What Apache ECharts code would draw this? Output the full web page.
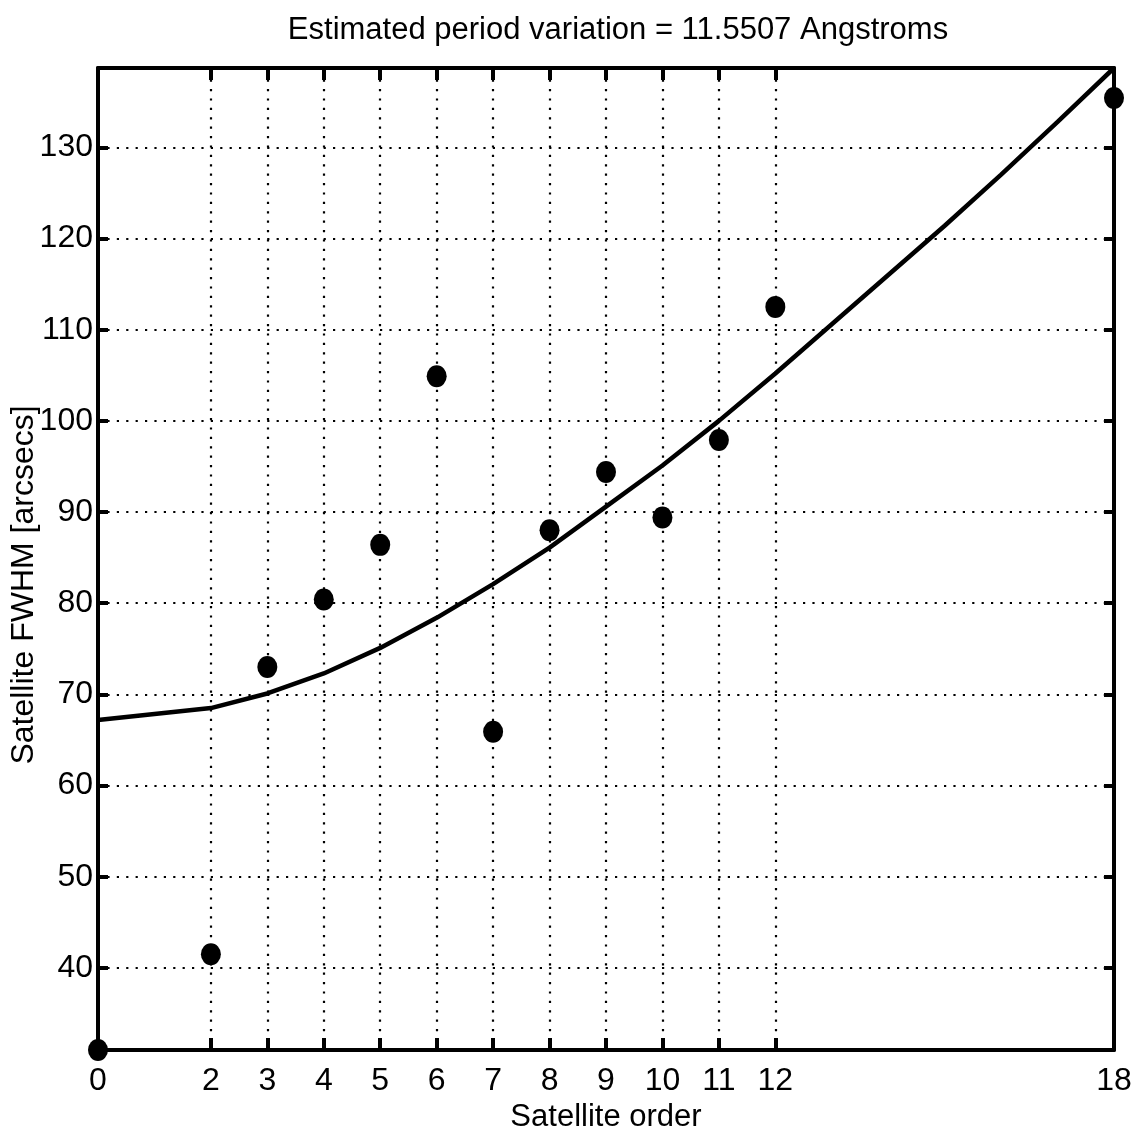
<!DOCTYPE html>
<html>
<head>
<meta charset="utf-8">
<script src="https://cdn.jsdelivr.net/npm/echarts@6/dist/echarts.min.js"></script>
<style>
  html, body { margin: 0; padding: 0; background: #fff; }
  #chart { width: 1135px; height: 1142px; }
</style>
</head>
<body>
<div id="chart"></div>
<script>
// Measured satellite widths per order
const satelliteOrder = [0, 2, 3, 4, 5, 6, 7, 8, 9, 10, 11, 12, 18];
const satelliteFwhm = [31.0, 41.5, 73.0, 80.4, 86.4, 104.9, 65.9, 88.0, 94.4, 89.4, 97.9, 112.5, 135.4];

// Fitted width curve
const fitOrder = [0, 2, 3, 4, 5, 6, 7, 8, 9, 10, 11, 12, 13, 14, 15, 16, 17, 18];
const fitFwhm = [67.2, 68.5, 70.1, 72.3, 75.1, 78.4, 82.1, 86.1, 90.6, 95.1, 100.0, 105.2, 110.6, 116.0, 121.4, 127.0, 132.8, 138.7];

// Tick positions
const xTicks = [0, 2, 3, 4, 5, 6, 7, 8, 9, 10, 11, 12, 18];
const xGrid = [2, 3, 4, 5, 6, 7, 8, 9, 10, 11, 12];
const yTicks = [40, 50, 60, 70, 80, 90, 100, 110, 120, 130];

const titleText = 'Estimated period variation = 11.5507 Angstroms';
const xName = 'Satellite order';
const yName = 'Satellite FWHM [arcsecs]';

const FONT = '"Liberation Sans", Arial, Helvetica, sans-serif';
const INK = '#000';

const chart = echarts.init(document.getElementById('chart'), null, { renderer: 'canvas' });

const frameLine = { show: true, onZero: false, lineStyle: { color: INK, width: 4 } };

const gridMarks = [];
xGrid.forEach(v => gridMarks.push({ xAxis: v }));
yTicks.forEach(v => gridMarks.push({ yAxis: v }));

chart.setOption({
  animation: false,
  backgroundColor: '#fff',
  title: {
    text: titleText,
    left: 613,
    textAlign: 'center',
    top: 10,
    textStyle: { fontFamily: FONT, fontSize: 31, fontWeight: 'normal', color: INK }
  },
  grid: { left: 98, right: 21, top: 68, bottom: 92, containLabel: false, outerBoundsMode: 'none' },
  xAxis: [
    {
      type: 'value', min: 0, max: 18, position: 'bottom',
      name: xName, nameLocation: 'middle', nameGap: 52,
      nameTextStyle: { fontFamily: FONT, fontSize: 31, color: INK },
      axisLine: frameLine,
      axisTick: { show: true, inside: true, length: 12, customValues: xTicks, lineStyle: { color: INK, width: 4 } },
      axisLabel: { show: true, customValues: xTicks, margin: 15, fontFamily: FONT, fontSize: 32, color: INK },
      splitLine: { show: false }
    },
    {
      type: 'value', min: 0, max: 18, position: 'top',
      axisLine: frameLine,
      axisTick: { show: true, inside: true, length: 12, customValues: xTicks, lineStyle: { color: INK, width: 4 } },
      axisLabel: { show: false },
      splitLine: { show: false }
    }
  ],
  yAxis: [
    {
      type: 'value', min: 31, max: 138.7, position: 'left',
      name: yName, nameLocation: 'middle', nameGap: 58, nameRotate: 90,
      nameMoveOverlap: false,
      nameTextStyle: { fontFamily: FONT, fontSize: 32, color: INK, padding: [0, 52, 0, 0] },
      axisLine: frameLine,
      axisTick: { show: true, inside: true, length: 10, customValues: yTicks, lineStyle: { color: INK, width: 4 } },
      axisLabel: { show: true, customValues: yTicks, margin: 5, fontFamily: FONT, fontSize: 32, color: INK },
      splitLine: { show: false }
    },
    {
      type: 'value', min: 31, max: 138.7, position: 'right',
      axisLine: frameLine,
      axisTick: { show: true, inside: true, length: 10, customValues: yTicks, lineStyle: { color: INK, width: 4 } },
      axisLabel: { show: false },
      splitLine: { show: false }
    }
  ],
  series: [
    {
      name: 'grid',
      type: 'line',
      data: [],
      silent: true,
      markLine: {
        silent: true,
        symbol: 'none',
        label: { show: false },
        lineStyle: { color: INK, width: 2.2, type: [2.2, 7.2], opacity: 1 },
        data: gridMarks
      }
    },
    {
      name: 'fit',
      type: 'line',
      data: fitOrder.map((x, i) => [x, fitFwhm[i]]),
      showSymbol: false,
      smooth: false,
      clip: false,
      lineStyle: { color: INK, width: 4.5 },
      z: 3
    },
    {
      name: 'measured',
      type: 'scatter',
      data: satelliteOrder.map((x, i) => [x, satelliteFwhm[i]]),
      symbol: 'circle',
      symbolSize: [20, 22],
      clip: false,
      itemStyle: { color: INK, opacity: 1 },
      z: 4
    }
  ]
});
</script>
</body>
</html>
